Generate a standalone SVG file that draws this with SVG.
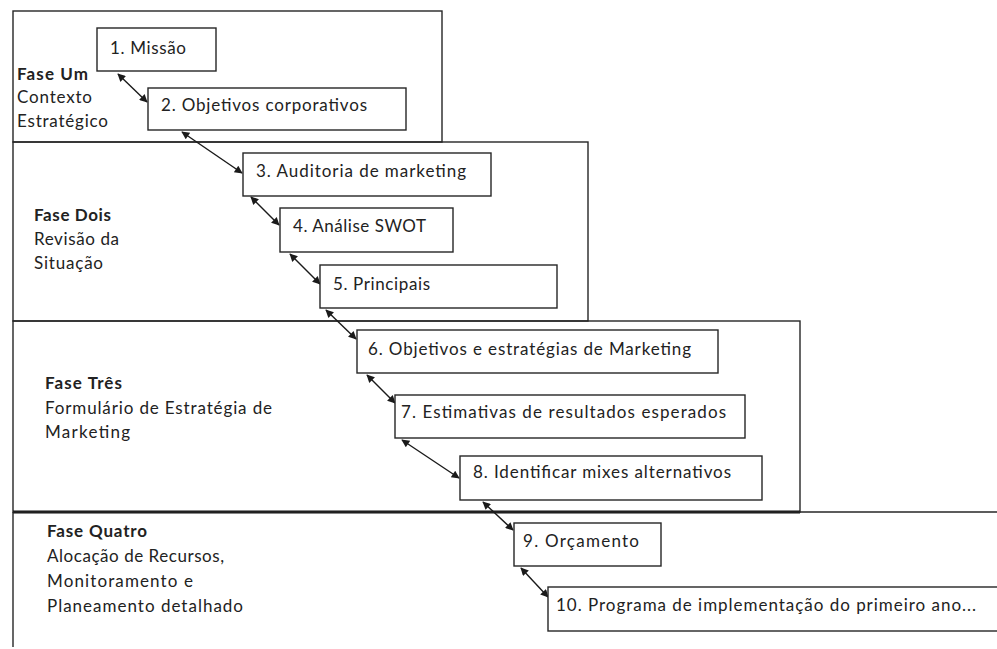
<svg xmlns="http://www.w3.org/2000/svg" width="997" height="649" viewBox="0 0 997 649">
<style>
.ph{fill:none;stroke:#262626;stroke-width:1.4}
.nd{fill:#fff;stroke:#262626;stroke-width:1.4}
.t{font-family:Lato,"Open Sans","DejaVu Sans",sans-serif;font-size:17px;fill:#222}
.b{font-weight:bold}
.c{fill:none;stroke:#1a1a1a;stroke-width:1.4;marker-start:url(#ah);marker-end:url(#ah)}
</style>
<defs>
<marker id="ah" viewBox="0 0 10 10" refX="9" refY="5" markerWidth="10" markerHeight="8" markerUnits="userSpaceOnUse" orient="auto-start-reverse">
<path d="M0,0 L10,5 L0,10 z" fill="#1a1a1a"/>
</marker>
</defs>
<rect width="997" height="649" fill="#fff"/>
<g id="phase1">
<rect class="ph" x="13" y="11" width="429" height="131"/>
<text class="t b" x="17" y="80" textLength="71">Fase Um</text>
<text class="t" x="17" y="103" textLength="75">Contexto</text>
<text class="t" x="17" y="127" textLength="91">Estratégico</text>
</g>
<g id="phase2">
<rect class="ph" x="13" y="142" width="575" height="179"/>
<text class="t b" x="34" y="221" textLength="77">Fase Dois</text>
<text class="t" x="34" y="245" textLength="85">Revisão da</text>
<text class="t" x="34" y="269" textLength="69">Situação</text>
</g>
<g id="phase3">
<rect class="ph" x="13" y="321" width="787" height="191"/>
<line x1="13" y1="512" x2="800" y2="512" stroke="#111" stroke-width="2.8"/>
<text class="t b" x="45" y="389" textLength="77">Fase Três</text>
<text class="t" x="45" y="414" textLength="227">Formulário de Estratégia de</text>
<text class="t" x="45" y="438" textLength="85">Marketing</text>
</g>
<g id="phase4">
<line x1="13" y1="512" x2="997" y2="512" stroke="#262626" stroke-width="1.4"/>
<line x1="13" y1="512" x2="13" y2="647" stroke="#262626" stroke-width="1.4"/>
<text class="t b" x="47" y="537" textLength="100">Fase Quatro</text>
<text class="t" x="47" y="562" textLength="177">Alocação de Recursos,</text>
<text class="t" x="47" y="587" textLength="146">Monitoramento e</text>
<text class="t" x="47" y="612" textLength="196">Planeamento detalhado</text>
</g>
<g id="connectors">
<line class="c" x1="118" y1="74" x2="147" y2="102"/>
<line class="c" x1="182" y1="132" x2="242" y2="173"/>
<line class="c" x1="251" y1="197" x2="279" y2="225"/>
<line class="c" x1="290" y1="254" x2="320" y2="284"/>
<line class="c" x1="326" y1="310" x2="356" y2="339"/>
<line class="c" x1="367" y1="375" x2="395" y2="403"/>
<line class="c" x1="402" y1="440" x2="459" y2="478"/>
<line class="c" x1="483" y1="502" x2="513" y2="530"/>
<line class="c" x1="521" y1="568" x2="548" y2="597"/>
</g>
<g id="n1"><rect class="nd" x="97" y="28" width="119" height="43"/><text class="t" x="110" y="54" textLength="76">1. Missão</text></g>
<g id="n2"><rect class="nd" x="148" y="88" width="258" height="42"/><text class="t" x="161" y="111" textLength="206">2. Objetivos corporativos</text></g>
<g id="n3"><rect class="nd" x="243" y="153" width="248" height="43"/><text class="t" x="256" y="177" textLength="210">3. Auditoria de marketing</text></g>
<g id="n4"><rect class="nd" x="280" y="208" width="173" height="44"/><text class="t" x="293" y="232" textLength="133">4. Análise SWOT</text></g>
<g id="n5"><rect class="nd" x="320" y="265" width="237" height="43"/><text class="t" x="333" y="290" textLength="97">5. Principais</text></g>
<g id="n6"><rect class="nd" x="357" y="330" width="361" height="43"/><text class="t" x="368" y="355" textLength="323">6. Objetivos e estratégias de Marketing</text></g>
<g id="n7"><rect class="nd" x="395" y="395" width="350" height="43"/><text class="t" x="401" y="418" textLength="325">7. Estimativas de resultados esperados</text></g>
<g id="n8"><rect class="nd" x="460" y="456" width="302" height="44"/><text class="t" x="473" y="478" textLength="258">8. Identificar mixes alternativos</text></g>
<g id="n9"><rect class="nd" x="514" y="523" width="147" height="43"/><text class="t" x="523" y="547" textLength="116">9. Orçamento</text></g>
<g id="n10"><rect class="nd" x="548" y="587" width="460" height="44"/><text class="t" x="556" y="611" textLength="420">10. Programa de implementação do primeiro ano...</text></g>
</svg>
